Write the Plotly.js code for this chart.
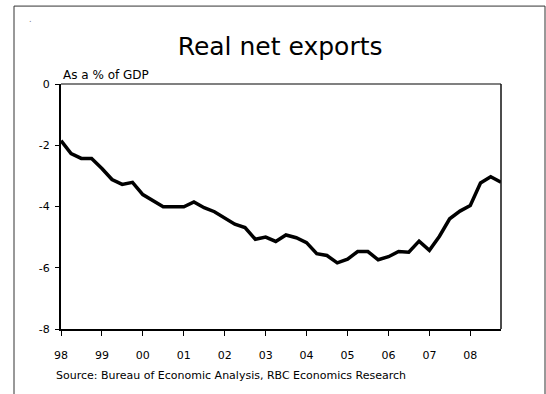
<!DOCTYPE html>
<html>
<head>
<meta charset="utf-8">
<script src="https://cdn.plot.ly/plotly-3.0.1.min.js"></script>
<style>
  html, body { margin: 0; padding: 0; background: #fff; }
  #chart { width: 546px; height: 394px; }
</style>
</head>
<body>
<div id="chart"></div>
<script>
// Quarterly periods, 1998Q1 to 2008Q4
const periods = [
  '1998-01-01','1998-04-01','1998-07-01','1998-10-01',
  '1999-01-01','1999-04-01','1999-07-01','1999-10-01',
  '2000-01-01','2000-04-01','2000-07-01','2000-10-01',
  '2001-01-01','2001-04-01','2001-07-01','2001-10-01',
  '2002-01-01','2002-04-01','2002-07-01','2002-10-01',
  '2003-01-01','2003-04-01','2003-07-01','2003-10-01',
  '2004-01-01','2004-04-01','2004-07-01','2004-10-01',
  '2005-01-01','2005-04-01','2005-07-01','2005-10-01',
  '2006-01-01','2006-04-01','2006-07-01','2006-10-01',
  '2007-01-01','2007-04-01','2007-07-01','2007-10-01',
  '2008-01-01','2008-04-01','2008-07-01','2008-10-01'
];
// Real net exports, % of GDP
const netExports = [
  -1.85, -2.27, -2.43, -2.43,
  -2.76, -3.12, -3.28, -3.21,
  -3.61, -3.81, -4.01, -4.01,
  -4.01, -3.85, -4.04, -4.17,
  -4.39, -4.58, -4.69, -5.07,
  -5.00, -5.14, -4.93, -5.02,
  -5.18, -5.54, -5.60, -5.84,
  -5.72, -5.47, -5.47, -5.74,
  -5.64, -5.47, -5.49, -5.13,
  -5.43, -4.97, -4.40, -4.15,
  -3.97, -3.23, -3.03, -3.21
];
const yearTicks = ['1998-01-01','1999-01-01','2000-01-01','2001-01-01','2002-01-01','2003-01-01',
                   '2004-01-01','2005-01-01','2006-01-01','2007-01-01','2008-01-01'];
const yearLabels = ['98','99','00','01','02','03','04','05','06','07','08'];
const yTicks = [0, -2, -4, -6, -8];

const FONT = 'DejaVu Sans, Verdana, sans-serif';

const trace = {
  x: periods,
  y: netExports,
  type: 'scatter',
  mode: 'lines',
  line: { color: '#000000', width: 3.5 },
  hoverinfo: 'skip'
};

const layout = {
  width: 546,
  height: 394,
  margin: { l: 61, r: 45, t: 84, b: 65, pad: 0 },
  paper_bgcolor: '#ffffff',
  plot_bgcolor: '#ffffff',
  showlegend: false,
  font: { family: FONT, size: 11, color: '#000000' },
  title: {
    text: 'Real net exports',
    font: { family: FONT, size: 25, color: '#000000' },
    xref: 'container', x: 0.513, xanchor: 'center',
    yref: 'container', y: 0.883, yanchor: 'middle'
  },
  xaxis: {
    type: 'date',
    range: ['1998-01-01', '2008-10-01'],
    tickmode: 'array',
    tickvals: yearTicks,
    ticktext: yearLabels,
    ticks: 'outside',
    ticklen: 5,
    tickwidth: 1,
    tickcolor: '#000000',
    showline: true,
    linecolor: '#000000',
    linewidth: 1.5,
    showgrid: false,
    zeroline: false,
    ticklabelstandoff: 10,
    tickfont: { family: FONT, size: 11, color: '#000000' }
  },
  yaxis: {
    range: [-8, 0],
    tickmode: 'array',
    tickvals: yTicks,
    ticktext: yTicks.map(String),
    ticks: 'outside',
    ticklen: 4,
    tickwidth: 1,
    tickcolor: '#000000',
    showline: true,
    linecolor: '#000000',
    linewidth: 2,
    showgrid: false,
    zeroline: false,
    ticklabelstandoff: 3,
    tickfont: { family: FONT, size: 11, color: '#000000' }
  },
  shapes: [
    // plot frame: top (gray) and right (black)
    { type: 'line', xref: 'paper', yref: 'paper', x0: 0, x1: 1, y0: 1, y1: 1,
      line: { color: '#808080', width: 2 } },
    { type: 'line', xref: 'paper', yref: 'paper', x0: 1, x1: 1, y0: 0, y1: 1,
      line: { color: '#111111', width: 1.5 } },
    // outer frame (open at bottom)
    { type: 'line', xref: 'paper', yref: 'paper', x0: -0.1068, x1: -0.1068, y0: 1.318, y1: -0.3,
      line: { color: '#333333', width: 1 } },
    { type: 'line', xref: 'paper', yref: 'paper', x0: -0.1068, x1: 1.1, y0: 1.318, y1: 1.318,
      line: { color: '#333333', width: 1 } },
    { type: 'line', xref: 'paper', yref: 'paper', x0: 1.1, x1: 1.1, y0: 1.318, y1: -0.3,
      line: { color: '#333333', width: 1 } }
  ],
  annotations: [
    { text: 'As a % of GDP', xref: 'paper', yref: 'paper', x: 0.0, y: 0.998,
      xanchor: 'left', yanchor: 'bottom', showarrow: false,
      font: { family: FONT, size: 12, color: '#000000' } },
    { text: 'Source: Bureau of Economic Analysis, RBC Economics Research',
      xref: 'paper', yref: 'paper', x: -0.016, y: -0.188,
      xanchor: 'left', yanchor: 'middle', showarrow: false,
      font: { family: FONT, size: 11, color: '#000000' } },
    { text: '.', xref: 'paper', yref: 'paper', x: -0.07, y: 1.265,
      xanchor: 'center', yanchor: 'middle', showarrow: false,
      font: { family: FONT, size: 8, color: '#777777' } }
  ]
};

Plotly.newPlot('chart', [trace], layout, { staticPlot: true, displayModeBar: false });
</script>
</body>
</html>
